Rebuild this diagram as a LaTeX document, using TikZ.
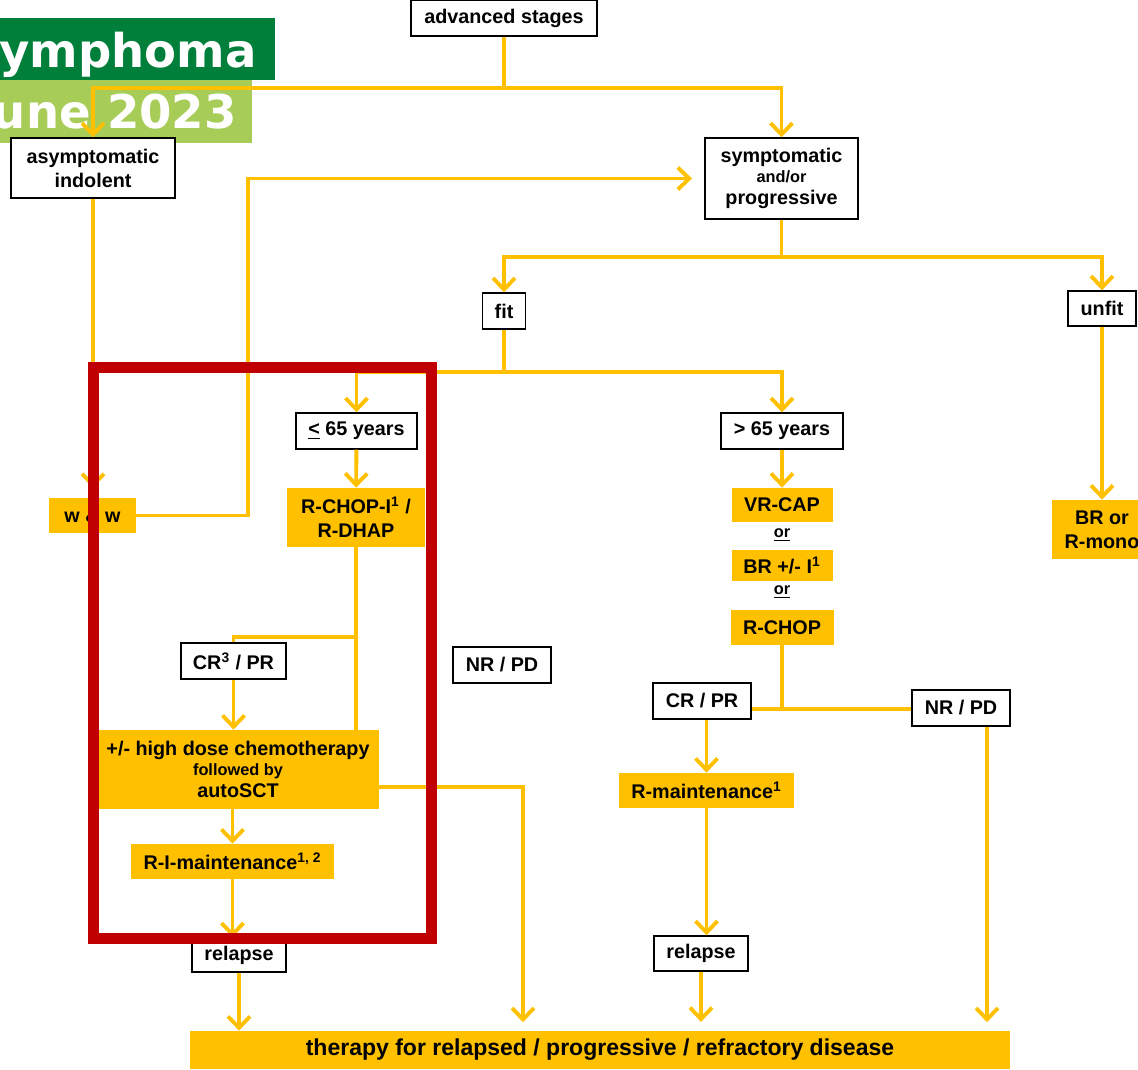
\documentclass[tikz,border=0pt]{standalone}
\usepackage{fontspec}
\setmainfont{Liberation Sans}
\newfontfamily\titlefont{DejaVu Sans}
\usepackage{xcolor}
\usetikzlibrary{arrows.meta}
\definecolor{amber}{HTML}{FFC000}
\definecolor{redframe}{HTML}{C00000}
\definecolor{darkgrn}{HTML}{007F3B}
\definecolor{lightgrn}{HTML}{A8CC58}
\newcommand{\smalltxt}{\fontsize{9.3}{11}\selectfont}

\begin{document}
\begin{tikzpicture}[
  x=0.02cm, y=-0.02cm,
  font=\fontsize{11.25}{13.6}\selectfont\bfseries,
  wbox/.style={draw=black, line width=0.8pt, fill=white, align=center, inner sep=1pt},
  obox/.style={fill=amber, align=center, inner sep=1pt},
  ar/.style={-{Straight Barb[length=6.5pt,width=12.5pt]}, line width=2.2pt, draw=amber},
  ln/.style={line width=2.2pt, draw=amber},
  orlbl/.style={font=\smalltxt\bfseries, inner sep=1pt}
]
  \clip (0,0) rectangle (1138,1070);

  % title banner, cut at the left edge
  \fill[darkgrn] (0,18) rectangle (275,80);
  \fill[lightgrn] (0,80) rectangle (252,143);
  \node[anchor=base east, inner sep=0pt, text=white, font=\titlefont\fontsize{26.5}{30}\selectfont\bfseries] (ttl) at (257,68) {ymphoma};
  \node[anchor=base east, inner sep=0pt, text=white, font=\titlefont\fontsize{26.5}{30}\selectfont\bfseries] (date) at (237,129) {une 2023};

  \node[wbox, minimum width=3.72cm, minimum height=0.72cm] (adv) at (504,18) {advanced stages};
  \node[wbox, minimum width=3.28cm, minimum height=1.2cm] (asym) at (93,168) {asymptomatic\\indolent};
  \node[wbox, minimum width=3.06cm, minimum height=1.62cm] (symp) at (781.5,178.5) {symptomatic\\[-2pt]{\smalltxt and/or}\\[-1pt]progressive};
  \node[wbox, minimum width=0.86cm, minimum height=0.72cm] (fit) at (504,311) {fit};
  \node[wbox, minimum width=1.36cm, minimum height=0.7cm] (unfit) at (1102,308.5) {unfit};
  \node[wbox, minimum width=2.42cm, minimum height=0.72cm] (le65) at (356.5,431) {\underline{<} 65 years};
  \node[wbox, minimum width=2.44cm, minimum height=0.72cm] (gt65) at (782,431) {> 65 years};

  \node[obox, minimum width=1.74cm, minimum height=0.7cm] (ww) at (92.5,515.5) {w \& w};
  \node[obox, minimum width=2.76cm, minimum height=1.18cm] (rchop) at (356,517.5) {R-CHOP-I\textsuperscript{1} /\\R-DHAP};
  \node[obox, minimum width=2.02cm, minimum height=0.68cm] (vrcap) at (782,505) {VR-CAP};
  \node[orlbl] (or1) at (782,535) {\underline{or}};
  \node[obox, minimum width=2.02cm, minimum height=0.62cm] (br) at (782,565.5) {BR +/- I\textsuperscript{1}};
  \node[orlbl] (or2) at (782,592) {\underline{or}};
  \node[obox, minimum width=2.06cm, minimum height=0.7cm] (rchop2) at (782,627.5) {R-CHOP};
  \node[obox, minimum width=2.0cm, minimum height=1.18cm] (brmono) at (1102,529.5) {BR or\\R-mono};

  \node[wbox, minimum width=2.1cm, minimum height=0.72cm] (crpr3) at (233.5,661) {CR\textsuperscript{3} / PR};
  \node[wbox, minimum width=1.96cm, minimum height=0.72cm] (nrpd1) at (502,665) {NR / PD};
  \node[obox, minimum width=5.64cm, minimum height=1.58cm] (hdc) at (238,769.5) {+/- high dose chemotherapy\\[-2pt]{\smalltxt followed by}\\[-1pt]autoSCT};
  \node[obox, minimum width=4.06cm, minimum height=0.7cm] (rimaint) at (232.5,861.5) {R-I-maintenance\textsuperscript{1, 2}};
  \node[wbox, minimum width=1.88cm, minimum height=0.68cm] (relapse1) at (239,955) {relapse};

  \node[wbox, minimum width=1.96cm, minimum height=0.72cm] (crpr) at (702,701) {CR / PR};
  \node[wbox, minimum width=1.96cm, minimum height=0.72cm] (nrpd2) at (961,708) {NR / PD};
  \node[obox, minimum width=3.5cm, minimum height=0.7cm] (rmaint) at (706.5,790.5) {R-maintenance\textsuperscript{1}};
  \node[wbox, minimum width=1.88cm, minimum height=0.7cm] (relapse2) at (701,953.5) {relapse};

  \node[obox, minimum width=16.4cm, minimum height=0.76cm, font=\fontsize{13.1}{15}\selectfont\bfseries] (therapy) at (600,1050) {therapy for relapsed / progressive / refractory disease};

  \coordinate (toutA) at (523,1031);
  \coordinate (toutD) at (987,1031);

  \draw[ln] (adv.south) -- ++(0,51) coordinate (jadv);
  \draw[ar] (jadv) -| (asym.north);
  \draw[ar] (jadv) -| (symp.north);
  \draw[ar, shorten >=5.5pt] (asym.south) -- (asym.south |- ww.north);
  \draw[ar, shorten >=7pt] (ww.east) -- ++(112,0) |- (symp.west);
  \draw[ln] (symp.south) -- ++(0,37) coordinate (jsym);
  \draw[ar] (jsym) -| (fit.north);
  \draw[ar] (jsym) -| (unfit.north);
  \draw[ln] (fit.south) -- ++(0,42) coordinate (jfit);
  \draw[ar] (jfit) -| (le65.north);
  \draw[ar] (jfit) -| (gt65.north);
  \draw[ar] (unfit) -- (brmono);

  \draw[ar] (le65) -- (rchop);
  \draw[ln] (rchop.south) -- (rchop.south |- hdc.north);
  \draw[ln] (rchop.south) ++(0,90) coordinate (jrc) -| (crpr3.north);
  \draw[ar] (crpr3.south) -- (crpr3.south |- hdc.north);
  \draw[ar] (rimaint.north |- hdc.south) -- (rimaint.north);
  \draw[ar] (rimaint.south) -- (rimaint.south |- relapse1.north);
  \draw[ar] (relapse1.south) -- (relapse1.south |- therapy.north);
  \draw[ar, shorten >=5pt] ([yshift=-9.9pt]hdc.east) -| (toutA);

  \draw[ar] (gt65) -- (vrcap);
  \draw[ln] (rchop2.south) -- ++(0,64) coordinate (jrc2);
  \draw[ln] (crpr.east |- jrc2) -- (nrpd2.west |- jrc2);
  \draw[ar] (rmaint.north |- crpr.south) -- (rmaint.north);
  \draw[ar] (rmaint.south) -- (rmaint.south |- relapse2.north);
  \draw[ar, shorten >=5pt] (relapse2.south) -- (relapse2.south |- therapy.north);
  \draw[ar, shorten >=5pt] (nrpd2.south -| toutD) -- (toutD);

  % red frame on top
  \draw[redframe, line width=6.2pt] (93.5,367.5) rectangle (431.5,938.5);
\end{tikzpicture}
\end{document}
